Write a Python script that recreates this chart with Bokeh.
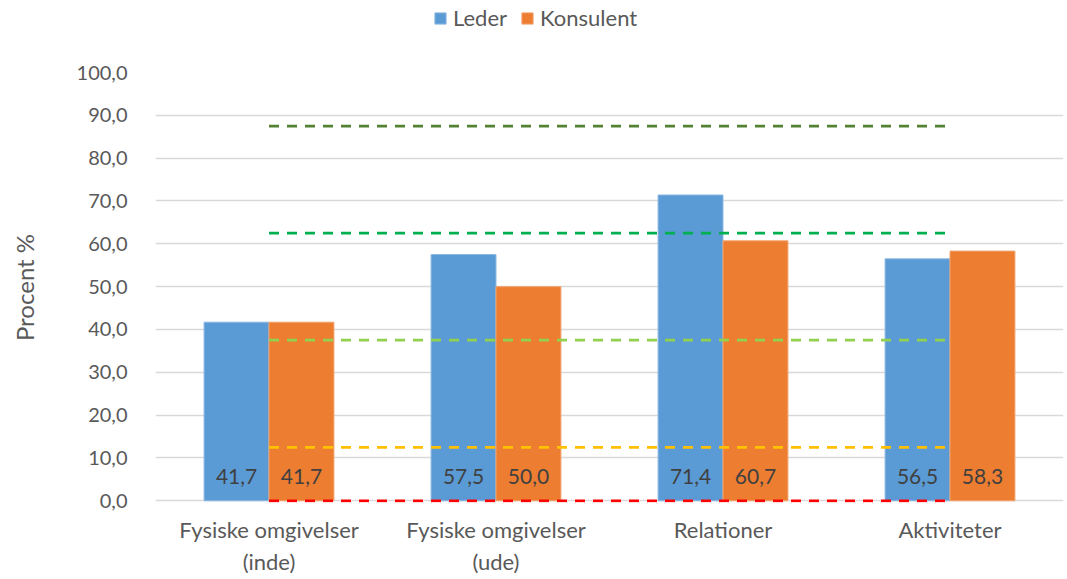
from bokeh.plotting import figure
from bokeh.layouts import column
from bokeh.models import ColumnDataSource, FactorRange, Range1d, FixedTicker, Legend, LegendItem
from bokeh.transform import dodge
from bokeh.core.properties import value
from bokeh.embed import file_html
from bokeh.resources import INLINE

categories = ["Fysiske omgivelser\n(inde)", "Fysiske omgivelser\n(ude)", "Relationer", "Aktiviteter"]
series_names = ["Leder", "Konsulent"]
leder = [41.7, 57.5, 71.4, 56.5]
konsulent = [41.7, 50.0, 60.7, 58.3]
threshold_values = [87.5, 62.5, 37.5, 12.5, 0.0]
threshold_colors = ["#548235", "#00B050", "#92D050", "#FFC000", "#FF0000"]
y_ticks = [0, 10, 20, 30, 40, 50, 60, 70, 80, 90, 100]
y_tick_labels = ["0,0", "10,0", "20,0", "30,0", "40,0", "50,0", "60,0", "70,0", "80,0", "90,0", "100,0"]

FONT = "Lato"
TXT = "#595959"
BLUE, BLUE_EDGE = "#5B9BD5", "#8DB9E3"
ORANGE, ORANGE_EDGE = "#ED7D31", "#F2A46F"

def fmt(v):
    return f"{v:.1f}".replace(".", ",")

src = ColumnDataSource(dict(
    cat=categories, leder=leder, konsulent=konsulent,
    leder_lbl=[fmt(v) for v in leder], kons_lbl=[fmt(v) for v in konsulent],
    zero=[0.0] * len(categories),
))

# ---------- legend strip on top ----------
top = figure(width=1064, height=56, x_range=Range1d(0, 1), y_range=Range1d(0, 1),
             x_axis_type=None, y_axis_type=None,
             output_backend="svg", toolbar_location=None,
             min_border_left=0, min_border_right=0, min_border_top=0, min_border_bottom=0)
top.grid.visible = False
top.outline_line_color = None
offscreen = ColumnDataSource(dict(x=[0.5], top=[-2.0], bottom=[-3.0]))
lr1 = top.vbar(x="x", top="top", bottom="bottom", width=0.01, source=offscreen,
               fill_color=BLUE, line_color=BLUE_EDGE)
lr2 = top.vbar(x="x", top="top", bottom="bottom", width=0.01, source=offscreen,
               fill_color=ORANGE, line_color=ORANGE_EDGE)
legend = Legend(items=[LegendItem(label=series_names[0], renderers=[lr1]),
                       LegendItem(label=series_names[1], renderers=[lr2])],
                orientation="horizontal", location=(278, 25),
                label_text_font=FONT, label_text_font_size="22px", label_text_color=TXT,
                glyph_width=14, glyph_height=14, label_height=20, label_standoff=6,
                spacing=13, padding=0, margin=0, border_line_color=None,
                background_fill_alpha=0)
top.add_layout(legend, "center")

# ---------- main chart ----------
p = figure(width=1064, height=523, x_range=FactorRange(*categories), y_range=Range1d(-0.4, 100),
           output_backend="svg", toolbar_location=None,
           min_border_left=155, min_border_right=1, min_border_top=16, min_border_bottom=77)
p.outline_line_color = None
p.background_fill_color = "white"
p.border_fill_color = "white"

bw = 0.286
p.vbar(x=dodge("cat", -bw / 2, range=p.x_range), top="leder", bottom=0, width=bw, source=src,
       fill_color=BLUE, line_color=BLUE_EDGE, line_width=1)
p.vbar(x=dodge("cat", bw / 2, range=p.x_range), top="konsulent", bottom=0, width=bw, source=src,
       fill_color=ORANGE, line_color=ORANGE_EDGE, line_width=1)

for val, col in zip(threshold_values, threshold_colors):
    p.line(x=categories, y=[val] * len(categories), line_color=col, line_width=2.75, line_dash="10 8")

p.text(x=dodge("cat", -bw / 2, range=p.x_range), y="zero", text="leder_lbl", source=src,
       text_font=value(FONT), text_font_size="21px", text_color="#404040",
       text_align="center", text_baseline="middle", y_offset=-24)
p.text(x=dodge("cat", bw / 2, range=p.x_range), y="zero", text="kons_lbl", source=src,
       text_font=value(FONT), text_font_size="21px", text_color="#404040",
       text_align="center", text_baseline="middle", y_offset=-24)

p.yaxis.ticker = FixedTicker(ticks=y_ticks)
p.yaxis.major_label_overrides = {t: l for t, l in zip(y_ticks, y_tick_labels)}
p.yaxis.axis_line_color = None
p.yaxis.major_tick_line_color = None
p.yaxis.minor_tick_line_color = None
p.yaxis.major_label_text_font = FONT
p.yaxis.major_label_text_font_size = "20px"
p.yaxis.major_label_text_color = TXT
p.yaxis.major_label_standoff = 22
p.yaxis.axis_label = "Procent %"
p.yaxis.axis_label_text_font = FONT
p.yaxis.axis_label_text_font_size = "24px"
p.yaxis.axis_label_text_font_style = "normal"
p.yaxis.axis_label_text_color = TXT
p.yaxis.axis_label_standoff = 35

p.xaxis.axis_line_color = None
p.xaxis.major_tick_line_color = None
p.xaxis.minor_tick_line_color = None
p.xaxis.major_label_text_font = FONT
p.xaxis.major_label_text_font_size = "22px"
p.xaxis.major_label_text_color = TXT
p.xaxis.major_label_standoff = 7
p.xaxis.major_label_orientation = "horizontal"

p.xgrid.grid_line_color = None
p.ygrid.grid_line_color = "#D9D9D9"
p.ygrid.grid_line_width = 1.5

layout = column(top, p, spacing=0)
open("out.html", "w").write(file_html(layout, INLINE))
